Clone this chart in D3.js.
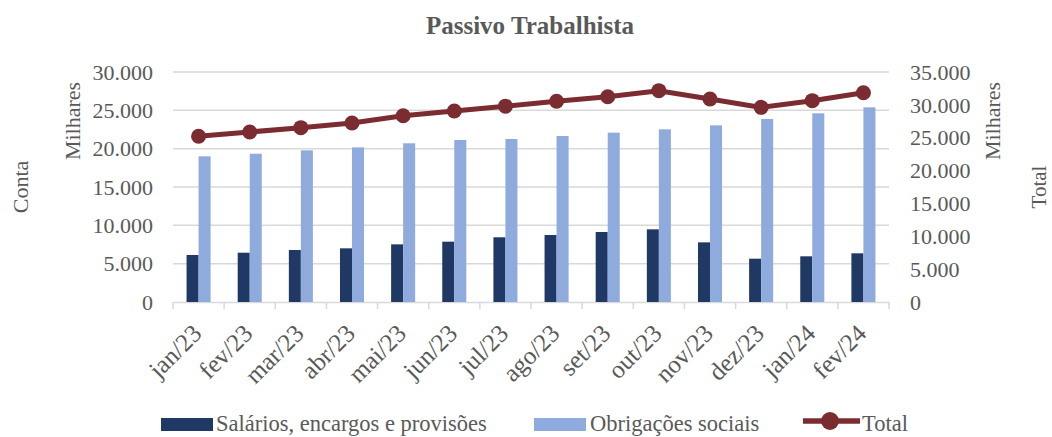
<!DOCTYPE html>
<html><head><meta charset="utf-8">
<script src="https://cdn.jsdelivr.net/npm/d3@7"></script>
<style>body{margin:0;background:#fff}svg{display:block}text{font-family:"Liberation Serif","DejaVu Serif",serif;fill:#595959}</style>
</head><body><svg id="c" width="1052" height="437"></svg>
<script>
const categories = ["jan/23","fev/23","mar/23","abr/23","mai/23","jun/23","jul/23","ago/23","set/23","out/23","nov/23","dez/23","jan/24","fev/24"];
const salarios = [6130,6430,6780,7000,7520,7870,8440,8740,9130,9480,7780,5650,5960,6350];
const obrigacoes = [19000,19340,19780,20170,20700,21130,21260,21650,22090,22520,23040,23870,24610,25390];
const total = [25220,25870,26530,27240,28350,29070,29800,30540,31240,32160,30890,29620,30640,31850];
const leftTicks = [0,5000,10000,15000,20000,25000,30000];
const rightTicks = [0,5000,10000,15000,20000,25000,30000,35000];
const seriesNames = ["Salários, encargos e provisões","Obrigações sociais","Total"];
const colors = ["#203864","#8faadc","#7b2c30"];

const svg = d3.select("#c");
const L = 173, R = 889, T = 72, B = 302;
const x = d3.scaleBand().domain(categories).range([L, R]).paddingInner(0.53).paddingOuter(0.265);
const xc = d3.scaleBand().domain(categories).range([L, R]);
const yL = d3.scaleLinear().domain([0, 30000]).range([B, T]);
const yR = d3.scaleLinear().domain([0, 35000]).range([B, T]);
const fmt = v => v === 0 ? "0" : d3.format(",")(v).replace(/,/g, ".");

// gridlines
svg.append("g").selectAll("line").data(leftTicks.filter(d => d > 0)).join("line")
  .attr("x1", L).attr("x2", R).attr("y1", d => yL(d)).attr("y2", d => yL(d))
  .attr("stroke", "#d9d9d9").attr("stroke-width", 1.5);

// x axis baseline + ticks
const xAxis = svg.append("g").attr("transform", `translate(0,${B})`)
  .call(d3.axisBottom(xc).tickSize(0).tickFormat(""));
xAxis.select(".domain").attr("stroke", "#d9d9d9").attr("stroke-width", 1.5);
const bounds = categories.map(c => xc(c)).concat([R]);
svg.append("g").selectAll("line").data(bounds).join("line")
  .attr("x1", d => d).attr("x2", d => d).attr("y1", B).attr("y2", B + 7)
  .attr("stroke", "#d9d9d9").attr("stroke-width", 1.5);

// left axis labels
svg.append("g").selectAll("text").data(leftTicks).join("text")
  .attr("x", 153).attr("y", d => yL(d)).attr("dy", "0.35em").attr("text-anchor", "end")
  .attr("font-size", 22).text(fmt);
// right axis labels
svg.append("g").selectAll("text").data(rightTicks).join("text")
  .attr("x", 910).attr("y", d => yR(d)).attr("dy", "0.35em").attr("text-anchor", "start")
  .attr("font-size", 22).text(fmt);

// bars
const bw = x.bandwidth() / 2;
svg.append("g").selectAll("rect").data(salarios).join("rect")
  .attr("x", (d, i) => x(categories[i])).attr("width", bw)
  .attr("y", d => yL(d)).attr("height", d => B - yL(d)).attr("fill", colors[0]);
svg.append("g").selectAll("rect").data(obrigacoes).join("rect")
  .attr("x", (d, i) => x(categories[i]) + bw).attr("width", bw)
  .attr("y", d => yL(d)).attr("height", d => B - yL(d)).attr("fill", colors[1]);

// line
const cx = i => xc(categories[i]) + xc.bandwidth() / 2;
svg.append("path").datum(total)
  .attr("d", d3.line().x((d, i) => cx(i)).y(d => yR(d)))
  .attr("fill", "none").attr("stroke", colors[2]).attr("stroke-width", 5);
svg.append("g").selectAll("circle").data(total).join("circle")
  .attr("cx", (d, i) => cx(i)).attr("cy", d => yR(d)).attr("r", 7.5).attr("fill", colors[2]);

// category labels
svg.append("g").selectAll("text").data(categories).join("text")
  .attr("transform", (d, i) => `translate(${cx(i) + 4.5},${B + 33}) rotate(-45)`)
  .attr("text-anchor", "end").attr("font-size", 25).text(d => d);

// title
svg.append("text").attr("x", 530).attr("y", 34).attr("text-anchor", "middle")
  .attr("font-size", 25).attr("font-weight", "bold").text("Passivo Trabalhista");

// axis titles (baseline on the right side of the rotated text)
const vt = (xp, yp, t, fs) => svg.append("text").attr("transform", `translate(${xp},${yp}) rotate(-90)`)
  .attr("text-anchor", "middle").attr("font-size", fs).text(t);
vt(28, 187, "Conta", 22);
vt(80, 121, "Milhares", 22);
vt(1000, 121, "Milhares", 22);
vt(1046, 187, "Total", 21);

// legend
const lg = svg.append("g");
lg.append("rect").attr("x", 161).attr("y", 418).attr("width", 52).attr("height", 13).attr("fill", colors[0]);
lg.append("text").attr("x", 216).attr("y", 431).attr("font-size", 22.5).text(seriesNames[0]);
lg.append("rect").attr("x", 534).attr("y", 418).attr("width", 52).attr("height", 13).attr("fill", colors[1]);
lg.append("text").attr("x", 590).attr("y", 431).attr("font-size", 22.5).text(seriesNames[1]);
lg.append("line").attr("x1", 803).attr("x2", 860).attr("y1", 421).attr("y2", 421).attr("stroke", colors[2]).attr("stroke-width", 5.5);
lg.append("circle").attr("cx", 830).attr("cy", 421).attr("r", 9).attr("fill", colors[2]);
lg.append("text").attr("x", 862).attr("y", 431).attr("font-size", 22.5).text(seriesNames[2]);
</script></body></html>
